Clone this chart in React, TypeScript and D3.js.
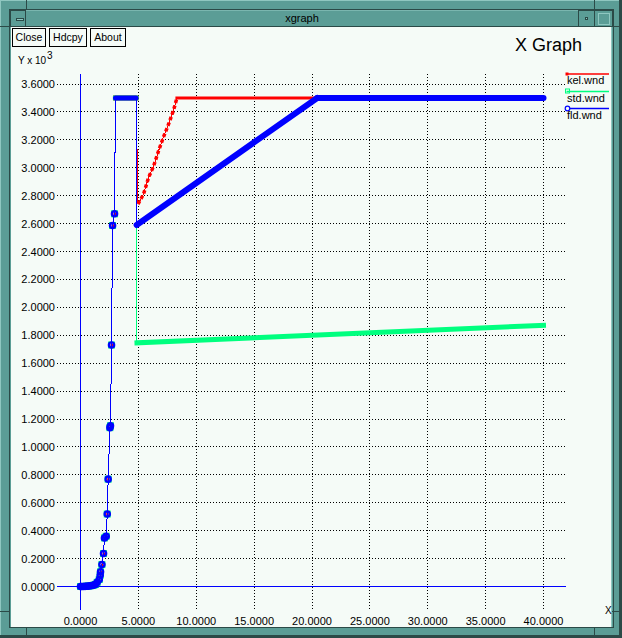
import React, { useEffect } from 'react';
import * as d3 from 'd3';

// tick values (Y is shown in units of 10^3)
const xTicks = [0, 5, 10, 15, 20, 25, 30, 35, 40];
const yTicks = [0, 0.2, 0.4, 0.6, 0.8, 1.0, 1.2, 1.4, 1.6, 1.8, 2.0, 2.2, 2.4, 2.6, 2.8, 3.0, 3.2, 3.4, 3.6];

// shared start-up rise, all three sets sit on top of each other here
const riseX = [0, 0.1, 0.25, 0.4, 0.55, 0.7, 0.85, 1.0, 1.15, 1.3, 1.44, 1.62, 1.7, 1.73, 1.85, 1.99, 2.07, 2.22, 2.31, 2.39, 2.54, 2.59, 2.68, 2.77, 2.94];
const riseY = [0, 0, 0, 0.001, 0.002, 0.003, 0.005, 0.007, 0.01, 0.015, 0.03, 0.05, 0.08, 0.105, 0.157, 0.236, 0.348, 0.36, 0.519, 0.769, 1.138, 1.152, 1.73, 2.586, 2.67];

// kel.wnd after the rise
const kelX = [3.02, 4.8, 4.97, 5.44, 5.88, 6.31, 6.74, 7.17, 7.6, 8.03, 8.33, 40];
const kelY = [3.5, 3.5, 2.74, 2.81, 2.93, 3.01, 3.12, 3.22, 3.31, 3.41, 3.5, 3.5];

// std.wnd after the rise
const stdX = [3.02, 4.8, 4.88, 40];
const stdY = [3.5, 3.5, 1.746, 1.871];

// fld.wnd after the rise
const fldX = [3.02, 4.8, 4.85, 20.45, 40];
const fldY = [3.5, 3.5, 2.59, 3.5, 3.5];

type Band = { from: number; to: number; w: number; dash?: string };

const series = [
  { name: 'kel.wnd', color: '#ff0000', tx: kelX, ty: kelY, cap: 'square',
    bands: [{ from: 0, to: 1, w: 5 }, { from: 2, to: 10, w: 3.5, dash: '3.5,2.5' }, { from: 10, to: 11, w: 3 }] as Band[] },
  { name: 'std.wnd', color: '#00ff7f', tx: stdX, ty: stdY, cap: 'square',
    bands: [{ from: 0, to: 1, w: 5 }, { from: 2, to: 3, w: 5 }] as Band[] },
  { name: 'fld.wnd', color: '#0000ff', tx: fldX, ty: fldY, cap: 'round',
    bands: [{ from: 0, to: 1, w: 5 }, { from: 2, to: 3, w: 6 }, { from: 3, to: 4, w: 6 }] as Band[] },
];

const W = 622;
const H = 638;
const teal = '#5b9d96';
const tealLight = '#8fc7c0';
const dark = '#2b4a47';
const paper = '#f5fbf7';
const font = '"Liberation Sans", Arial, Helvetica, sans-serif';

const App: React.FC = () => {
  useEffect(() => {
    document.body.style.margin = '0';
  }, []);

  const x = d3.scaleLinear().domain([0, 40]).range([80.5, 543.5]);
  const y = d3.scaleLinear().domain([0, 3.6]).range([586.5, 84]);
  const fmt = d3.format('.4f');

  const line = d3.line<[number, number]>()
    .x(d => x(d[0]))
    .y(d => y(d[1]));

  const risePts: [number, number][] = riseX.map((v, i) => [v, riseY[i]]);

  return (
    <svg width={W} height={H} style={{ display: 'block' }} fontFamily={font}>
      {/* window frame */}
      <rect x={0} y={0} width={W} height={H} fill={teal} />
      <line x1={0} y1={0.5} x2={W} y2={0.5} stroke={tealLight} />
      <line x1={0.5} y1={0} x2={0.5} y2={H} stroke={tealLight} />
      <line x1={W - 1.5} y1={0} x2={W - 1.5} y2={H} stroke={dark} strokeWidth={3} />
      <line x1={0} y1={H - 1.5} x2={W} y2={H - 1.5} stroke={dark} strokeWidth={3} />
      {/* corner handles */}
      <g stroke={dark} shapeRendering="crispEdges">
        <line x1={26.5} y1={0} x2={26.5} y2={10} />
        <line x1={594.5} y1={0} x2={594.5} y2={10} />
        <line x1={26.5} y1={627} x2={26.5} y2={H} />
        <line x1={594.5} y1={627} x2={594.5} y2={H} />
        <line x1={0} y1={26.5} x2={10} y2={26.5} />
        <line x1={612} y1={26.5} x2={W} y2={26.5} />
        <line x1={0} y1={611.5} x2={10} y2={611.5} />
        <line x1={612} y1={611.5} x2={W} y2={611.5} />
      </g>
      {/* title bar */}
      <rect x={9.5} y={9.5} width={604} height={618} fill="none" stroke={dark} shapeRendering="crispEdges" />
      <line x1={10} y1={26.5} x2={613} y2={26.5} stroke={dark} shapeRendering="crispEdges" />
      <line x1={10} y1={10.5} x2={613} y2={10.5} stroke={tealLight} strokeOpacity={0.6} />
      <g stroke={dark} fill="none" shapeRendering="crispEdges">
        <rect x={10.5} y={10.5} width={15} height={16} />
        <rect x={16.5} y={18.5} width={7} height={2} fill={tealLight} />
        <rect x={578.5} y={10.5} width={16} height={16} />
        <rect x={585.5} y={17.5} width={2} height={2} fill={tealLight} />
        <rect x={594.5} y={10.5} width={18} height={16} />
        <rect x={598.5} y={13.5} width={11} height={11} stroke={tealLight} />
      </g>
      <text x={302} y={22} fontSize={11} textAnchor="middle" fill="#000">xgraph</text>

      {/* client area */}
      <rect x={11} y={27} width={600} height={600} fill={paper} />
      <line x1={611.5} y1={27} x2={611.5} y2={627} stroke={tealLight} />

      {/* buttons */}
      {[
        { label: 'Close', x0: 12.5, w: 33 },
        { label: 'Hdcpy', x0: 49.5, w: 37 },
        { label: 'About', x0: 90.5, w: 35 },
      ].map(b => (
        <g key={b.label}>
          <rect x={b.x0} y={28.5} width={b.w} height={18} fill={paper} stroke="#000" shapeRendering="crispEdges" />
          <text x={b.x0 + b.w / 2} y={41} fontSize={10.5} textAnchor="middle">{b.label}</text>
        </g>
      ))}

      <text x={515} y={51} fontSize={18}>X Graph</text>
      <text x={18} y={63.5} fontSize={10}>Y x 10</text>
      <text x={47} y={58.5} fontSize={10}>3</text>
      <text x={605} y={614} fontSize={10}>X</text>

      {/* grid */}
      <g stroke="#000" strokeDasharray="1,2" shapeRendering="crispEdges">
        {yTicks.map(t => (
          <line key={'gy' + t} x1={57} x2={566} y1={y(t)} y2={y(t)} />
        ))}
        {xTicks.map(t => (
          <line key={'gx' + t} x1={x(t)} x2={x(t)} y1={74} y2={610} />
        ))}
      </g>
      {yTicks.map(t => (
        <text key={'ly' + t} x={55} y={y(t) + 4} fontSize={11} textAnchor="end">{fmt(t)}</text>
      ))}
      {xTicks.map(t => (
        <text key={'lx' + t} x={x(t)} y={625} fontSize={11} textAnchor="middle">{fmt(t)}</text>
      ))}

      {/* zero axes */}
      <g stroke="#0000ff" shapeRendering="crispEdges">
        <line x1={x(0)} x2={x(0)} y1={74} y2={610} />
        <line x1={57} x2={566} y1={y(0)} y2={y(0)} />
      </g>

      {/* data sets */}
      {series.map(s => {
        const tail: [number, number][] = s.tx.map((v, i) => [v, s.ty[i]]);
        const all = risePts.concat(tail);
        return (
          <g key={s.name}>
            <path d={line(all) || ''} fill="none" stroke={s.color} strokeWidth={1} shapeRendering="crispEdges" />
            {s.bands.map((b, i) => (
              <path
                key={i}
                d={line(tail.slice(b.from, b.to + 1)) || ''}
                fill="none"
                stroke={s.color}
                strokeWidth={b.w}
                strokeDasharray={b.dash}
                strokeLinecap={b.dash ? 'butt' : (s.cap as any)}
              />
            ))}
            {risePts.map((p, i) => {
              const cx = x(p[0]);
              const cy = y(p[1]);
              if (s.name === 'kel.wnd') {
                return <rect key={i} x={cx - 1} y={cy - 1} width={2.5} height={2.5} fill={s.color} />;
              }
              if (s.name === 'std.wnd') {
                return <rect key={i} x={cx - 3} y={cy - 3} width={6} height={6} fill="none" stroke={s.color} />;
              }
              return <circle key={i} cx={cx} cy={cy} r={2.6} fill="none" stroke={s.color} strokeWidth={2.4} />;
            })}
          </g>
        );
      })}

      {/* legend */}
      {series.map((s, i) => {
        const ly = [74, 91.5, 108.5][i];
        return (
          <g key={'lg' + s.name}>
            <line x1={566.5} x2={609} y1={ly} y2={ly} stroke={s.color} strokeWidth={1.5} />
            {i === 0 && <rect x={565.5} y={ly - 1.5} width={3} height={3} fill={s.color} />}
            {i === 1 && <rect x={565.5} y={ly - 2.5} width={4} height={4} fill="none" stroke={s.color} />}
            {i === 2 && <circle cx={567.5} cy={ly} r={2.3} fill={paper} stroke={s.color} strokeWidth={1.2} />}
            <text x={567} y={ly + 10} fontSize={11}>{s.name}</text>
          </g>
        );
      })}
    </svg>
  );
};

export default App;
